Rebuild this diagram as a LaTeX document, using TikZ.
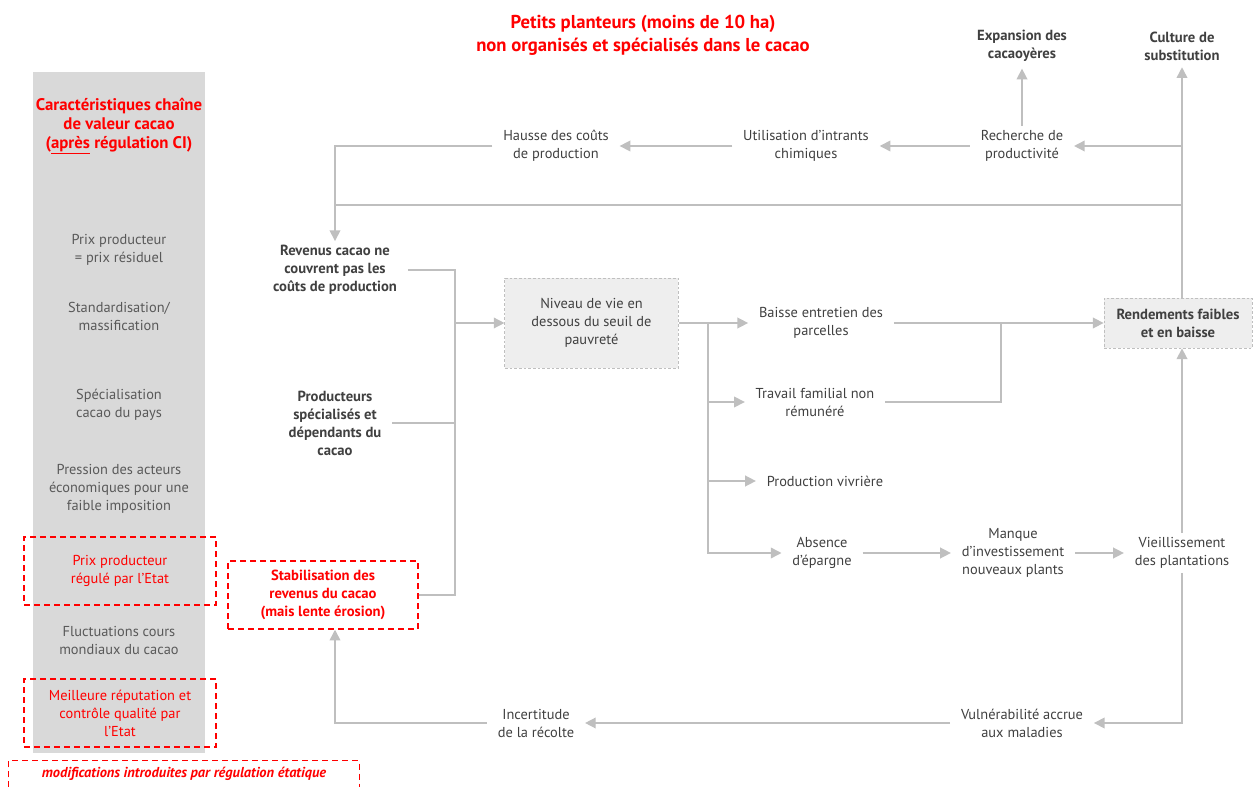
\documentclass[tikz,border=0pt]{standalone}
\usepackage{fontspec}
\setmainfont{PT Sans}
\usepackage{xcolor}
\usetikzlibrary{arrows.meta,positioning}

\definecolor{linegray}{HTML}{BFBFBF}
\definecolor{textgray}{HTML}{404040}
\definecolor{colgray}{HTML}{D9D9D9}
\definecolor{coltext}{HTML}{595959}
\definecolor{boxgray}{HTML}{EEEEEE}
\definecolor{alertred}{HTML}{FF0000}

\begin{document}
\begin{tikzpicture}[
    x=0.75pt, y=-0.75pt,
    every node/.style={align=center, font=\fontsize{10.8}{13.5}\selectfont, text=textgray},
    cause/.style={inner xsep=8pt, inner ysep=3pt},
    key/.style={cause, font=\fontsize{11}{13.5}\selectfont\bfseries},
    levelbox/.style={draw=linegray, line width=0.6pt, dash pattern=on 2pt off 1.5pt, fill=boxgray},
    trait/.style={text=coltext},
    regul/.style={draw=alertred, line width=1.1pt, dash pattern=on 4.5pt off 3pt,
        minimum width=144pt, minimum height=51pt, text=alertred},
    colbar/.style={fill=colgray, minimum width=129pt, minimum height=510pt, inner sep=0pt},
    link/.style={draw=linegray, line width=1.1pt, -{Triangle[width=8pt,length=8pt]}},
    wire/.style={draw=linegray, line width=1.1pt}
]
\useasboundingbox (0,0) rectangle (1253,787);

% left column: value chain features
\node[colbar] (column) at (119,412.5) {};
\node[text=alertred, font=\fontsize{12.6}{14.3}\selectfont\bfseries] (coltitle) at (119,126)
    {Caractéristiques chaîne\\de valeur cacao\\(\underline{après} régulation CI)};
\node[trait] (prixres) at (119,250) {Prix producteur\\= prix résiduel};
\node[trait] (standard) at (119,316) {Standardisation/\\massification};
\node[trait] (special) at (119,405) {Spécialisation\\cacao du pays};
\node[trait] (pression) at (119,489) {Pression des acteurs\\économiques pour une\\faible imposition};
\node[regul] (prixreg) at (120,571) {Prix producteur\\régulé par l’Etat};
\node[trait] (fluct) at (119,640) {Fluctuations cours\\mondiaux du cacao};
\node[regul] (reput) at (120,713) {Meilleure réputation et\\contrôle qualité par\\l’Etat};
\node[text=alertred, font=\fontsize{10.8}{12}\selectfont\bfseries\itshape,
    minimum width=262.5pt, minimum height=19.5pt] (legend) at (184,774)
    {modifications introduites par régulation étatique};
\draw[alertred, line width=1.1pt, dash pattern=on 4.5pt off 3pt]
    (legend.south west) |- (legend.north east) -- (legend.south east);

% title
\node[text=alertred, font=\fontsize{14}{17.25}\selectfont\bfseries] (title) at (643,35)
    {Petits planteurs (moins de 10 ha)\\non organisés et spécialisés dans le cacao};

% top row
\node[cause] (hausse) at (556,146) {Hausse des coûts\\de production};
\node[cause] (intrants) at (806,146) {Utilisation d’intrants\\chimiques};
\node[cause] (recherche) at (1022,146) {Recherche de\\productivité};
\node[key, inner ysep=5pt] (expansion) at (1022,46) {Expansion des\\cacaoyères};
\node[key, inner ysep=5pt] (culture) at (1182,46) {Culture de\\substitution};

% incomes
\node[key] (revenus) at (335,270) {Revenus cacao ne\\couvrent pas les\\coûts de production};
\node[key] (producteurs) at (335,423) {Producteurs\\spécialisés et\\dépendants du\\cacao};
\node[regul, font=\fontsize{11}{13.5}\selectfont\bfseries, minimum width=142.5pt]
    (stabil) at (323,595) {Stabilisation des\\revenus du cacao\\(mais lente érosion)};
\node[levelbox, minimum width=130pt, minimum height=67.5pt] (niveau) at (591.5,323)
    {Niveau de vie en\\dessous du seuil de\\pauvreté};

% consequences
\node[cause] (entretien) at (821,323) {Baisse entretien des\\parcelles};
\node[cause] (travail) at (815,402) {Travail familial non\\rémunéré};
\node[cause] (vivriere) at (825,481) {Production vivrière};
\node[cause] (epargne) at (822,553) {Absence\\d’épargne};
\node[cause] (invest) at (1013,553) {Manque\\d’investissement\\nouveaux plants};
\node[cause] (vieil) at (1182,553) {Vieillissement\\des plantations};
\node[levelbox, font=\fontsize{11}{13.5}\selectfont\bfseries,
    minimum width=111pt, minimum height=37.5pt] (rendement) at (1178,323)
    {Rendements faibles\\et en baisse};
\node[cause] (vulner) at (1022,723) {Vulnérabilité accrue\\aux maladies};
\node[cause] (incert) at (536,723) {Incertitude\\de la récolte};

% junctions
\coordinate (bar) at (335,205);
\coordinate (hub) at (455,323);
\coordinate (fork) at (708,323);
\coordinate (merge) at (1001,323);

% connectors
\draw[link] (culture.south |- rendement.north) -- (culture.south);
\draw[link] (culture.south |- recherche.east) -- (recherche.east);
\draw[link] (recherche.west) -- (intrants.east);
\draw[link] (intrants.west) -- (hausse.east);
\draw[link] (recherche.north) -- (expansion.south);
\draw[link] (hausse.west) -| (revenus.north);
\draw[wire] (culture.south |- bar) -- (bar);

\draw[wire] (revenus.east) -| (hub);
\draw[wire] (producteurs.east) -| (hub);
\draw[wire] (stabil.east) -| (hub);
\draw[link] (hub) -- (niveau.west);

\draw[link] (niveau.east) -- (entretien.west);
\draw[link] (fork) |- (travail.west);
\draw[link] (fork) |- (vivriere.west);
\draw[link] (fork) |- (epargne.west);

\draw[link] (entretien.east) -- (rendement.west);
\draw[wire] (travail.east) -| (merge);
\draw[link] (epargne.east) -- (invest.west);
\draw[link] (invest.east) -- (vieil.west);
\draw[link] (vieil.north) -- (vieil.north |- rendement.south);
\draw[link] (vieil.south) |- (vulner.east);
\draw[link] (vulner.west) -- (incert.east);
\draw[link] (incert.west) -| (revenus |- stabil.south);
\end{tikzpicture}
\end{document}
